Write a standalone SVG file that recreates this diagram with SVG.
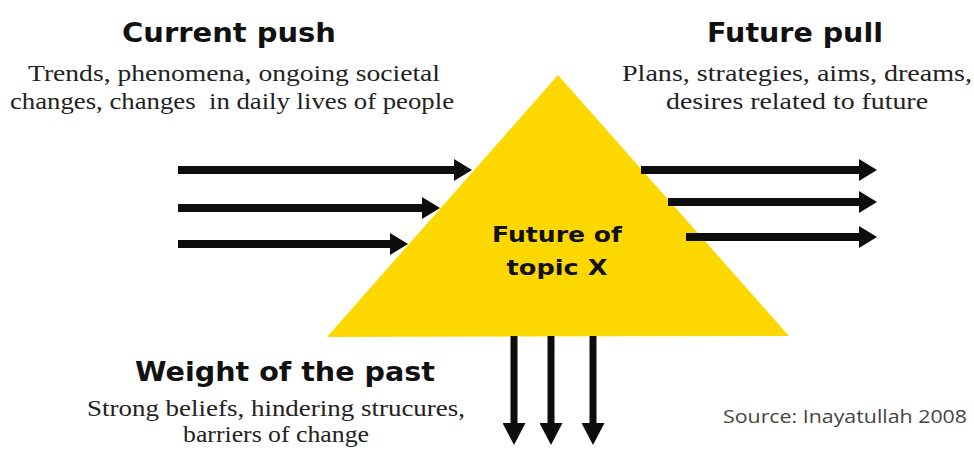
<svg xmlns="http://www.w3.org/2000/svg" width="974" height="452" viewBox="0 0 974 452">
<style>
.h{font-family:"DejaVu Sans","Liberation Sans",sans-serif;font-weight:bold;fill:#111;}
.s{font-family:"Liberation Serif","DejaVu Serif",serif;fill:#222;font-size:24px;white-space:pre;}
.c{font-family:"DejaVu Sans","Liberation Sans",sans-serif;font-weight:bold;fill:#111;font-size:22px;}
.src{font-family:"Open Sans","Noto Sans",sans-serif;fill:#444;font-size:18px;}
.arr{stroke:#0d0d0d;stroke-width:8;fill:none;}
.arrd{stroke:#0d0d0d;stroke-width:7;fill:none;}
</style>
<defs>
<marker id="ah" markerUnits="userSpaceOnUse" markerWidth="18" markerHeight="22" refX="8" refY="11" orient="auto" viewBox="0 0 18 22">
<path d="M0,0 L18,11 L0,22 Z" fill="#0d0d0d"/>
</marker>
<marker id="ad" markerUnits="userSpaceOnUse" markerWidth="22" markerHeight="23" refX="12" refY="11.5" orient="auto" viewBox="0 0 22 23">
<path d="M0,0 L22,11.5 L0,23 Z" fill="#0d0d0d"/>
</marker>
</defs>
<rect width="974" height="452" fill="#ffffff"/>

<g id="triangle">
<polygon points="558,75 789,336 327,337" fill="#FDD800"/>
<text class="c" x="557" y="242" text-anchor="middle" textLength="130" lengthAdjust="spacingAndGlyphs">Future of</text>
<text class="c" x="557" y="275" text-anchor="middle" textLength="101" lengthAdjust="spacingAndGlyphs">topic X</text>
</g>

<g id="current-push">
<text class="h" x="229" y="42" font-size="27" text-anchor="middle" textLength="214" lengthAdjust="spacingAndGlyphs">Current push</text>
<text class="s" x="234" y="81" text-anchor="middle" textLength="412" lengthAdjust="spacingAndGlyphs">Trends, phenomena, ongoing societal</text>
<text class="s" x="232" y="109" text-anchor="middle" textLength="444" lengthAdjust="spacingAndGlyphs" xml:space="preserve">changes, changes  in daily lives of people</text>
</g>

<g id="future-pull">
<text class="h" x="795" y="42" font-size="27" text-anchor="middle" textLength="176" lengthAdjust="spacingAndGlyphs">Future pull</text>
<text class="s" x="797" y="81" text-anchor="middle" textLength="350" lengthAdjust="spacingAndGlyphs">Plans, strategies, aims, dreams,</text>
<text class="s" x="797" y="109" text-anchor="middle" textLength="262" lengthAdjust="spacingAndGlyphs">desires related to future</text>
</g>

<g id="weight-of-past">
<text class="h" x="285" y="381" font-size="27" text-anchor="middle" textLength="300" lengthAdjust="spacingAndGlyphs">Weight of the past</text>
<text class="s" x="276" y="416" text-anchor="middle" textLength="378" lengthAdjust="spacingAndGlyphs">Strong beliefs, hindering strucures,</text>
<text class="s" x="276" y="442" text-anchor="middle" textLength="186" lengthAdjust="spacingAndGlyphs">barriers of change</text>
</g>

<g id="source">
<text class="src" x="723" y="423" textLength="244" lengthAdjust="spacingAndGlyphs">Source: Inayatullah 2008</text>
</g>

<g id="connectors">
<line class="arr" x1="178" y1="170" x2="462" y2="170" marker-end="url(#ah)"/>
<line class="arr" x1="178" y1="208" x2="430" y2="208" marker-end="url(#ah)"/>
<line class="arr" x1="178" y1="244" x2="398" y2="244" marker-end="url(#ah)"/>
<line class="arr" x1="641" y1="170" x2="867" y2="170" marker-end="url(#ah)"/>
<line class="arr" x1="668" y1="202" x2="867" y2="202" marker-end="url(#ah)"/>
<line class="arr" x1="686" y1="237" x2="867" y2="237" marker-end="url(#ah)"/>
<line class="arrd" x1="514" y1="336" x2="514" y2="435" marker-end="url(#ad)"/>
<line class="arrd" x1="551" y1="336" x2="551" y2="435" marker-end="url(#ad)"/>
<line class="arrd" x1="593" y1="336" x2="593" y2="435" marker-end="url(#ad)"/>
</g>
</svg>
